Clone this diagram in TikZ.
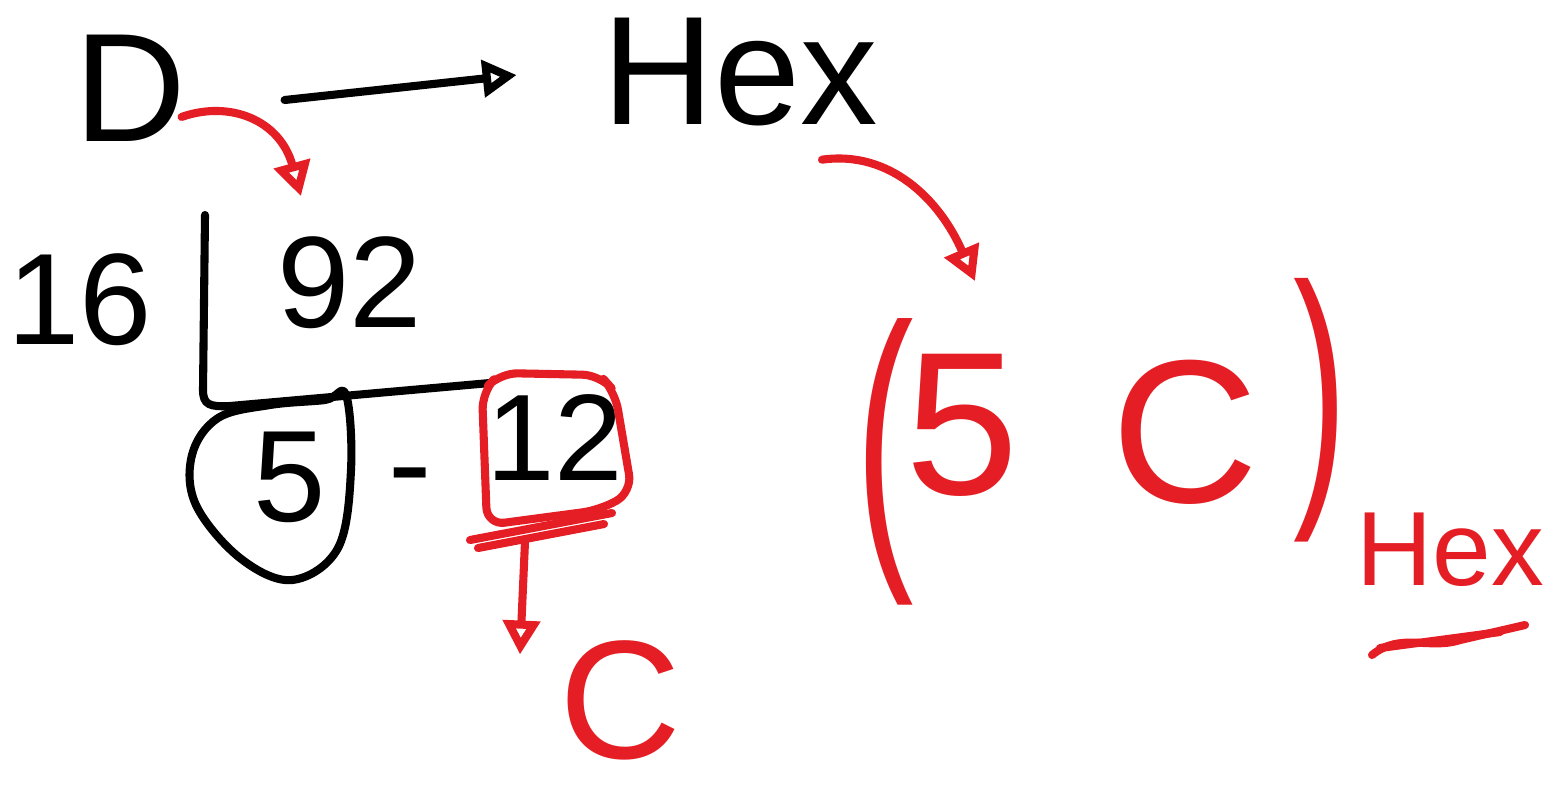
\documentclass[tikz,border=0pt]{standalone}
\usepackage{fontspec}
\setmainfont{Liberation Sans}
\usepackage{xcolor}
\usepackage{tikz}
\usetikzlibrary{arrows.meta}

\definecolor{pen}{RGB}{228,30,36}

\begin{document}
\begin{tikzpicture}[
      x=0.01cm, y=-0.01cm,
      ink/.style={line width=2.3pt, line cap=round, line join=round},
      redink/.style={ink, draw=pen},
      blktext/.style={inner sep=0pt, text=black},
      redtext/.style={inner sep=0pt, text=pen},
      openhead/.style={-{Triangle[open, length=3.4mm, width=3.6mm, line width=2.3pt]}},
      big/.style={font=\fontsize{44}{44}\selectfont},
      mid/.style={font=\fontsize{37}{37}\selectfont},
      huge/.style={font=\fontsize{58}{58}\selectfont}
  ]
    \fill[white] (0,0) rectangle (1555,793);
    \useasboundingbox (0,0) rectangle (1555,793);

    % top row
    \node[blktext, big] (dec) at (130,88) {D};
    \node[blktext, big] (hexword) at (740,72) {Hex};
    \draw[ink, openhead] ([shift={(98,12)}]dec.east) -- ([shift={(-85,3)}]hexword.west);

    % division
    \node[blktext, mid] (base) at (80,300) {16};
    \node[blktext, mid] (num) at (350,283) {92};
    \draw[ink] (205,215) -- (203,390) .. controls (203,405) and (210,407) .. (230,406) -- (490,383);
    \node[blktext, mid] (quot) at (290,477) {5};
    \draw[ink] plot[smooth cycle, tension=0.6] coordinates {(346,395) (351,470) (338,548) (292,580) (240,558) (196,505) (192,455) (218,418) (270,405) (325,400)};
    \node[blktext, mid] (dash) at (410,488) {-};
    \node[blktext, font=\fontsize{35}{35}\selectfont] (rem) at (555,438) {12};

    % remainder in red
    \draw[redink, rounded corners=5pt] (487,525) -- (482,392) -- (500,373) -- (600,375) -- (615,392) -- (632,492) -- (600,510) -- cycle;
    \draw[redink] (470,540) -- (612,513);
    \draw[redink] (478,548) -- (604,524);
    \node[redtext, font=\fontsize{48}{48}\selectfont] (cres) at (620,700) {C};
    \draw[redink, openhead] ([shift={(-30,60)}]rem.south) -- ([shift={(-100,15)}]cres.north);

    % red arrow D to 92
    \draw[redink, openhead] ([shift={(-5,-25)}]dec.south east) .. controls (230,100) and (280,120) .. ([shift={(24,-40)}]num.north west);

    % result
    \node[redtext, font=\fontsize{50}{50}\selectfont] (lpar) at (885,462) {\scalebox{1}[1.75]{(}};
    \node[redtext, huge] (hfive) at (962,425) {5};
    \node[redtext, huge] (hc) at (1185,432) {C};
    \node[redtext, font=\fontsize{46}{46}\selectfont] (rpar) at (1320,410) {\scalebox{1}[1.75]{)}};
    \node[redtext, font=\fontsize{30}{30}\selectfont] (sub) at (1450,550) {Hex};
    \draw[redink] (1372,655) .. controls (1400,632) and (1430,650) .. (1460,640) -- (1525,625);
    \draw[redink] (1380,648) -- (1500,632);
    \draw[redink, openhead] ([shift={(82,33)}]hexword.south) .. controls (890,150) and (940,200) .. ([shift={(13,-72)}]hfive.north);
  \end{tikzpicture}
\end{document}
